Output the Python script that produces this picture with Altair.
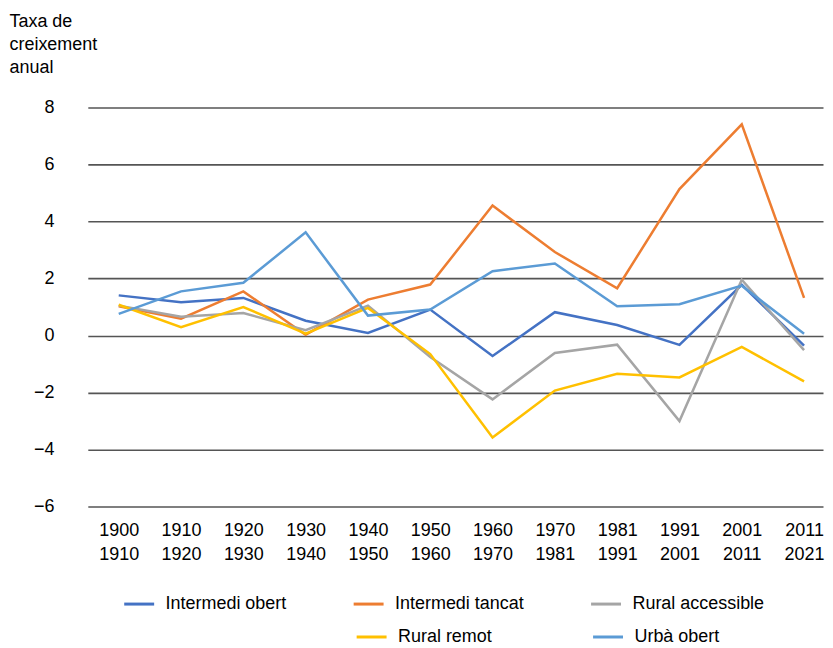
import altair as alt
import pandas as pd

period_start = ["1900", "1910", "1920", "1930", "1940", "1950", "1960", "1970", "1981", "1991", "2001", "2011"]
period_end = ["1910", "1920", "1930", "1940", "1950", "1960", "1970", "1981", "1991", "2001", "2011", "2021"]

intermedi_obert = [1.41, 1.17, 1.32, 0.52, 0.09, 0.91, -0.72, 0.82, 0.37, -0.33, 1.78, -0.35]
intermedi_tancat = [1.03, 0.59, 1.55, 0.03, 1.26, 1.79, 4.56, 2.93, 1.66, 5.14, 7.41, 1.32]
rural_accessible = [1.05, 0.66, 0.79, 0.19, 1.05, -0.75, -2.24, -0.61, -0.32, -3.0, 1.96, -0.51]
rural_remot = [1.08, 0.29, 1.0, 0.07, 0.97, -0.65, -3.58, -1.93, -1.34, -1.47, -0.4, -1.61]
urba_obert = [0.76, 1.55, 1.85, 3.62, 0.70, 0.91, 2.26, 2.53, 1.03, 1.10, 1.75, 0.06]

series_names = ["Intermedi obert", "Intermedi tancat", "Rural accessible", "Rural remot", "Urbà obert"]
series_values = [intermedi_obert, intermedi_tancat, rural_accessible, rural_remot, urba_obert]
series_colors = ["#4472C4", "#ED7D31", "#A5A5A5", "#FFC000", "#5B9BD5"]

y_title = ["Taxa de", "creixement", "anual"]
y_ticks = [-6, -4, -2, 0, 2, 4, 6, 8]

rows = []
for name, vals in zip(series_names, series_values):
    for i, v in enumerate(vals):
        rows.append({"series": name, "idx": i, "value": v})
df = pd.DataFrame(rows)

FONT = "Liberation Sans"

label_expr = "[" + ",".join(f"['{s}','{e}']" for s, e in zip(period_start, period_end)) + "][datum.value]"

x_enc = alt.X(
    "idx:Q",
    scale=alt.Scale(domain=[-0.4964, 11.304], nice=False, zero=False),
    axis=alt.Axis(
        values=list(range(len(period_start))),
        labelExpr=label_expr,
        grid=False, domain=False, ticks=False,
        labelPadding=15, labelFontSize=18, labelLineHeight=24,
        labelFont=FONT, labelColor="#000", labelAngle=0,
        labelFlush=False, labelOverlap=False, title=None,
    ),
)
y_enc = alt.Y(
    "value:Q",
    scale=alt.Scale(domain=[-6, 8], nice=False, zero=False),
    axis=alt.Axis(
        values=y_ticks, grid=True, gridColor="#555555", gridWidth=1.6,
        domain=False, ticks=False, labelPadding=34, labelFontSize=18,
        labelFont=FONT, labelColor="#000",
        title=y_title, titleAngle=0, titleAlign="left", titleBaseline="top",
        titleX=-79, titleY=-95, titleFontSize=18, titleFontWeight="normal",
        titleFont=FONT, titleLineHeight=23, titleColor="#000",
    ),
)

first = series_names[:3]
second = series_names[3:]

def legend(x, y, cols, pad):
    return alt.Legend(
        title=None, orient="none", legendX=x, legendY=y, direction="horizontal",
        columns=cols, columnPadding=pad, symbolType="stroke", symbolSize=900,
        symbolStrokeWidth=3, labelFontSize=18, labelFont=FONT, labelColor="#000",
        labelOffset=10, padding=0,
    )

layer1 = alt.Chart(df[df["series"].isin(first)]).mark_line(strokeWidth=2.5).encode(
    x=x_enc, y=y_enc,
    color=alt.Color("series:N", scale=alt.Scale(domain=first, range=series_colors[:3]),
                    legend=legend(35, 481, 3, 60)),
)
layer2 = alt.Chart(df[df["series"].isin(second)]).mark_line(strokeWidth=2.5).encode(
    x=x_enc, y=y_enc,
    color=alt.Color("series:N", scale=alt.Scale(domain=second, range=series_colors[3:]),
                    legend=legend(268, 514, 2, 94)),
)

chart = alt.layer(layer1, layer2).resolve_scale(color="independent").properties(
    width=737, height=400,
    padding={"left": 1, "top": 4, "right": 0, "bottom": 0},
    background="white",
).configure_view(stroke=None)

chart.save("out.html", embed_options={"renderer": "svg", "actions": False})
